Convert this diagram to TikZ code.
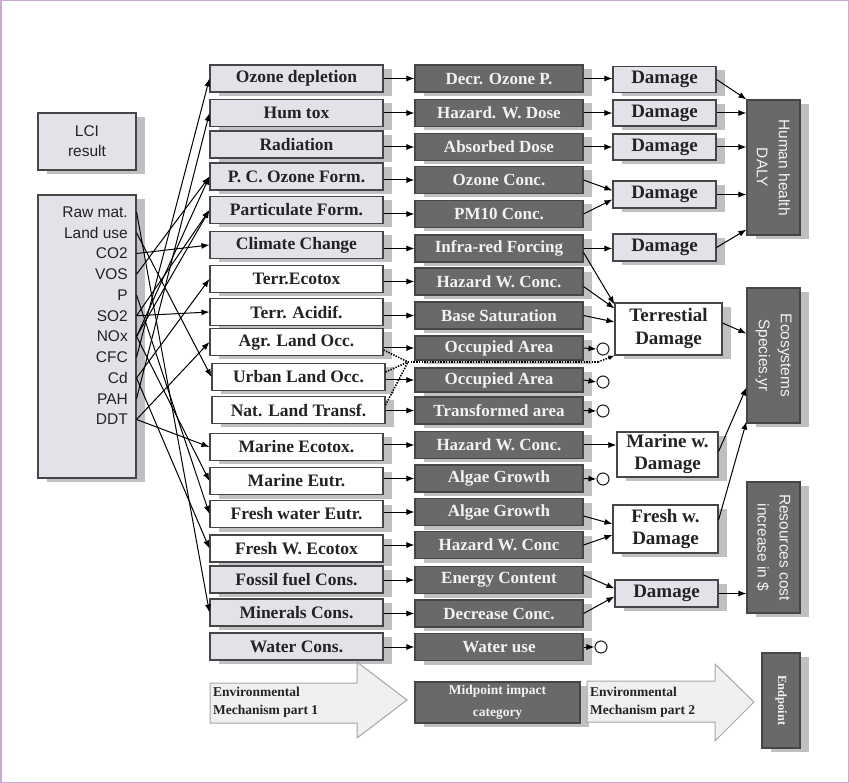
\documentclass[tikz,border=0pt]{standalone}
\usepackage{fontspec}
\setmainfont{Liberation Serif}
\newfontfamily\sansf{Liberation Sans}
\usetikzlibrary{arrows.meta,shadows}
\definecolor{bordc}{RGB}{70,70,72}
\definecolor{lightf}{RGB}{226,227,232}
\definecolor{shadc}{RGB}{192,192,194}
\definecolor{darkf}{RGB}{105,105,108}
\definecolor{txtc}{RGB}{35,35,35}
\definecolor{wtxt}{RGB}{242,242,242}
\definecolor{framec}{RGB}{200,170,218}
\definecolor{arrowf}{RGB}{240,240,242}
\begin{document}
\begin{tikzpicture}[x=1pt,y=-1pt,
 base/.style={draw=bordc, line width=1.1pt, inner sep=0pt, align=center,
   general shadow={fill=shadc, shadow xshift=9pt, shadow yshift=-4pt}},
 lfill/.style={fill=lightf}, wfill/.style={fill=white},
 c1/.style={base, minimum width=173pt, minimum height=27pt, font=\bfseries\fontsize{17.5}{20}\selectfont, text=txtc},
 c2/.style={base, fill=darkf, minimum width=168pt, minimum height=27pt, font=\bfseries\fontsize{17}{20}\selectfont, text=wtxt},
 dm/.style={base, font=\bfseries\fontsize{19}{23}\selectfont, text=txtc},
 ep/.style={base, fill=darkf},
 eptxt/.style={rotate=-90, align=center, text=wtxt, font=\sansf\fontsize{15.5}{22}\selectfont},
 item/.style={anchor=east, inner sep=0pt, text=txtc, font=\sansf\fontsize{15.5}{18}\selectfont},
 circ/.style={circle, draw=txtc, line width=1.1pt, fill=white, minimum size=12pt, inner sep=0pt},
 arr/.style={-{Latex[length=8pt,width=6pt]}, line width=1pt, draw=black},
 dotl/.style={line width=1.6pt, dash pattern=on 1.4pt off 1.3pt, draw=black},
 bigarrow/.style={draw=gray!70, line width=1pt, fill=arrowf},
 bigtxt/.style={anchor=west, inner sep=0pt, text=txtc, font=\bfseries\fontsize{13.5}{18}\selectfont}
]
\useasboundingbox (0,0) rectangle (849,783);
\draw[framec, line width=1.5pt] (0.75,0.75) rectangle (848.25,782.25);

% LCI boxes
\node[base, lfill, minimum width=98pt, minimum height=57pt, text=txtc, font=\sansf\fontsize{15.5}{20}\selectfont] (lci) at (87,141.5) {LCI\\result};
\node[base, lfill, minimum width=98pt, minimum height=283pt] (raw) at (87,336.5) {};
\node[item] (i1) at (128,212) {Raw mat.};
\node[item] (i2) at (128,232.75) {Land use};
\node[item] (i3) at (128,253.5) {CO2};
\node[item] (i4) at (128,274.25) {VOS};
\node[item] (i5) at (128,295) {P};
\node[item] (i6) at (128,315.75) {SO2};
\node[item] (i7) at (128,336.5) {NOx};
\node[item] (i8) at (128,357.25) {CFC};
\node[item] (i9) at (128,378) {Cd};
\node[item] (i10) at (128,398.75) {PAH};
\node[item] (i11) at (128,419.5) {DDT};

% column 1
\node[c1,lfill] (a1) at (296.5,78.5) {Ozone depletion};
\node[c1,lfill] (a2) at (296.5,113) {Hum tox};
\node[c1,lfill] (a3) at (296.5,144.5) {Radiation};
\node[c1,lfill] (a4) at (296.5,176.5) {P. C. Ozone Form.};
\node[c1,lfill] (a5) at (296.5,210) {Particulate Form.};
\node[c1,lfill] (a6) at (296.5,245) {Climate Change};
\node[c1,wfill] (a7) at (296.5,279) {Terr.Ecotox};
\node[c1,wfill] (a8) at (296.5,312) {Terr. Acidif.};
\node[c1,wfill] (a9) at (296.5,342) {Agr. Land Occ.};
\node[c1,wfill] (a10) at (298.5,377) {Urban Land Occ.};
\node[c1,wfill] (a11) at (298.5,410) {Nat. Land Transf.};
\node[c1,wfill] (a12) at (296.5,447) {Marine Ecotox.};
\node[c1,wfill] (a13) at (296.5,481) {Marine Eutr.};
\node[c1,wfill] (a14) at (296.5,514) {Fresh water Eutr.};
\node[c1,wfill] (a15) at (296.5,548.5) {Fresh W. Ecotox};
\node[c1,lfill] (a16) at (296.5,579.5) {Fossil fuel Cons.};
\node[c1,lfill] (a17) at (296.5,612.5) {Minerals Cons.};
\node[c1,lfill] (a18) at (296.5,646.5) {Water Cons.};

% column 2
\node[c2] (b1) at (499,78.5) {Decr. Ozone P.};
\node[c2] (b2) at (499,113) {Hazard. W. Dose};
\node[c2] (b3) at (499,147) {Absorbed Dose};
\node[c2] (b4) at (499,180) {Ozone Conc.};
\node[c2] (b5) at (499,214) {PM10 Conc.};
\node[c2] (b6) at (499,248.5) {Infra-red Forcing};
\node[c2] (b7) at (499,281.5) {Hazard W. Conc.};
\node[c2] (b8) at (499,315.5) {Base Saturation};
\node[c2, minimum height=24pt] (b9) at (499,348) {Occupied Area};
\node[c2, minimum height=24pt] (b10) at (499,380) {Occupied Area};
\node[c2] (b11) at (499,410.5) {Transformed area};
\node[c2] (b12) at (499,445) {Hazard W. Conc.};
\node[c2] (b13) at (499,478.5) {Algae Growth};
\node[c2] (b14) at (499,512) {Algae Growth};
\node[c2] (b15) at (499,545) {Hazard W. Conc};
\node[c2] (b16) at (499,580) {Energy Content};
\node[c2] (b17) at (499,613.5) {Decrease Conc.};
\node[c2] (b18) at (499,647) {Water use};

% circles
\node[circ] (o9) at (603,349) {};
\node[circ] (o10) at (603,382) {};
\node[circ] (o11) at (603,411) {};
\node[circ] (o13) at (603,479) {};
\node[circ] (o18) at (601,647) {};

% column 3
\node[dm,lfill,minimum width=103pt,minimum height=26pt] (d1) at (664.5,79.5) {Damage};
\node[dm,lfill,minimum width=103pt,minimum height=26pt] (d2) at (664.5,113) {Damage};
\node[dm,lfill,minimum width=103pt,minimum height=26pt] (d3) at (664.5,147) {Damage};
\node[dm,lfill,minimum width=103pt,minimum height=27pt] (d4) at (664.5,194.5) {Damage};
\node[dm,lfill,minimum width=103pt,minimum height=27pt] (d5) at (664.5,247.5) {Damage};
\node[dm,wfill,minimum width=107pt,minimum height=52pt] (tr) at (668.5,329) {Terrestial\\Damage};
\node[dm,wfill,minimum width=101pt,minimum height=45pt,font=\bfseries\fontsize{19}{22}\selectfont] (mw) at (667.5,454.5) {Marine w.\\Damage};
\node[dm,wfill,minimum width=105pt,minimum height=48pt,font=\bfseries\fontsize{19}{22}\selectfont] (fw) at (665.5,529) {Fresh w.\\Damage};
\node[dm,lfill,minimum width=103pt,minimum height=27pt] (dr) at (666.5,593.5) {Damage};

% column 4
\node[ep, minimum width=53pt, minimum height=135pt] (hh) at (773.5,167.5) {};
\node[eptxt] (hht) at (hh.center) {Human health\\DALY};
\node[ep, minimum width=53pt, minimum height=135pt] (eco) at (773.5,355.5) {};
\node[eptxt] (ecot) at (eco.center) {Ecosystems\\Species.yr};
\node[ep, minimum width=53pt, minimum height=131pt] (res) at (773.5,547.5) {};
\node[eptxt] (rest) at (res.center) {Resources cost\\increase in \$};

% bottom legend
\draw[bigarrow] (210,683) -- (357,683) -- (357,662) -- (407,700) -- (357,738) -- (357,723) -- (210,723) -- cycle;
\node[bigtxt] (l1) at (213,692) {Environmental};
\node[bigtxt] (l2) at (213,711) {Mechanism part 1};
\node[ep, minimum width=165pt, minimum height=41pt, text=wtxt, font=\bfseries\fontsize{13.5}{22}\selectfont] (mid) at (497.5,702.5) {Midpoint impact\\category};
\draw[bigarrow] (587,681) -- (715,681) -- (715,664) -- (754,702) -- (715,741) -- (715,722) -- (587,722) -- cycle;
\node[bigtxt] (l3) at (590,692) {Environmental};
\node[bigtxt] (l4) at (590,711) {Mechanism part 2};
\node[ep, minimum width=38pt, minimum height=95pt] (endp) at (781,700.5) {};
\node[rotate=-90, text=wtxt, font=\bfseries\fontsize{12.5}{14}\selectfont] (endt) at (endp.center) {Endpoint};

% LCI -> column 1
\draw[arr] (raw.east |- i8) -- (a1.west);
\draw[arr] (raw.east |- i10) -- (a2.west);
\draw[arr] (raw.east |- i4) -- (a4.west);
\draw[arr] (raw.east |- i7) -- (a4.west);
\draw[arr] (raw.east |- i6) -- (a5.west);
\draw[arr] (raw.east |- i7) -- (a5.west);
\draw[arr] (raw.east |- i3) -- (a6.west);
\draw[arr] (raw.east |- i9) -- (a7.west);
\draw[arr] (raw.east |- i6) -- (a8.west);
\draw[arr] (raw.east |- i11) -- (a9.west);
\draw[arr] (raw.east |- i2) -- (a10.west);
\draw[arr] (raw.east |- i11) -- (a12.west);
\draw[arr] (raw.east |- i7) -- (a13.west);
\draw[arr] (raw.east |- i5) -- (a14.west);
\draw[arr] (raw.east |- i9) -- (a15.west);
\draw[arr] (raw.east |- i1) -- (a17.west);

% column 1 -> column 2
\foreach \i in {1,...,18} { \draw[arr] (a\i.east |- b\i) -- (b\i.west); }

% dotted land-use links
\coordinate (dj) at (408,362);
\coordinate (dk) at (598,362);
\draw[dotl] ([yshift=-8pt]a9.east) -- (dj);
\draw[dotl] ([yshift=5pt]a10.east) -- (dj);
\draw[dotl] ([yshift=5pt]a11.east) -- (dj);
\draw[dotl] (dj) -- (dk);
\draw[dotl, -{Latex[length=6pt,width=5pt]}] (dk) -- (tr.south west);

% column 2 -> column 3
\draw[arr] (b1.east) -- (d1.west |- b1);
\draw[arr] (b2.east) -- (d2.west |- b2);
\draw[arr] (b3.east) -- (d3.west |- b3);
\draw[arr] (b4.east) -- ([yshift=4pt]d4.west);
\draw[arr] (b5.east) -- ([yshift=-5pt]d5.west |- d4);
\draw[arr] (b6.east) -- (d5.west |- b6);
\draw[arr] ([yshift=-4pt]b6.east) -- ([yshift=-2pt]tr.north west);
\draw[arr] ([yshift=-5pt]b7.east) -- ([yshift=-6pt]tr.north west);
\draw[arr] (b8.east) -- ([yshift=7pt]tr.west);
\draw[arr] (b9.east) -- (o9.west);
\draw[arr] (b10.east) -- (o10.west);
\draw[arr] (b11.east) -- (o11.west);
\draw[arr] (b12.east) -- (mw.west |- b12);
\draw[arr] (b13.east) -- (o13.west);
\draw[arr] ([yshift=-4pt]b14.east) -- ([yshift=5pt]fw.west);
\draw[arr] (b15.east) -- ([yshift=-6pt]fw.west);
\draw[arr] ([yshift=5pt]b16.east) -- ([yshift=5pt]dr.west);
\draw[arr] (b17.east) -- ([yshift=-3pt]dr.west);
\draw[arr] (b18.east) -- (o18.west);

% column 3 -> column 4
\draw[arr] (d1.east) -- (hh.north west);
\draw[arr] (d2.east) -- (hh.west |- d2);
\draw[arr] (d3.east) -- (hh.west |- d3);
\draw[arr] (d4.east) -- (hh.west |- d4);
\draw[arr] (d5.east) -- ([yshift=6pt]hh.south west);
\draw[arr] ([yshift=6pt]tr.east) -- ([yshift=22pt]eco.west);
\draw[arr] ([yshift=3pt]mw.east) -- ([yshift=-32pt]eco.west);
\draw[arr] ([yshift=9pt]fw.east) -- ([yshift=2pt]eco.south west);
\draw[arr] (dr.east) -- (res.west |- dr);
\end{tikzpicture}
\end{document}
